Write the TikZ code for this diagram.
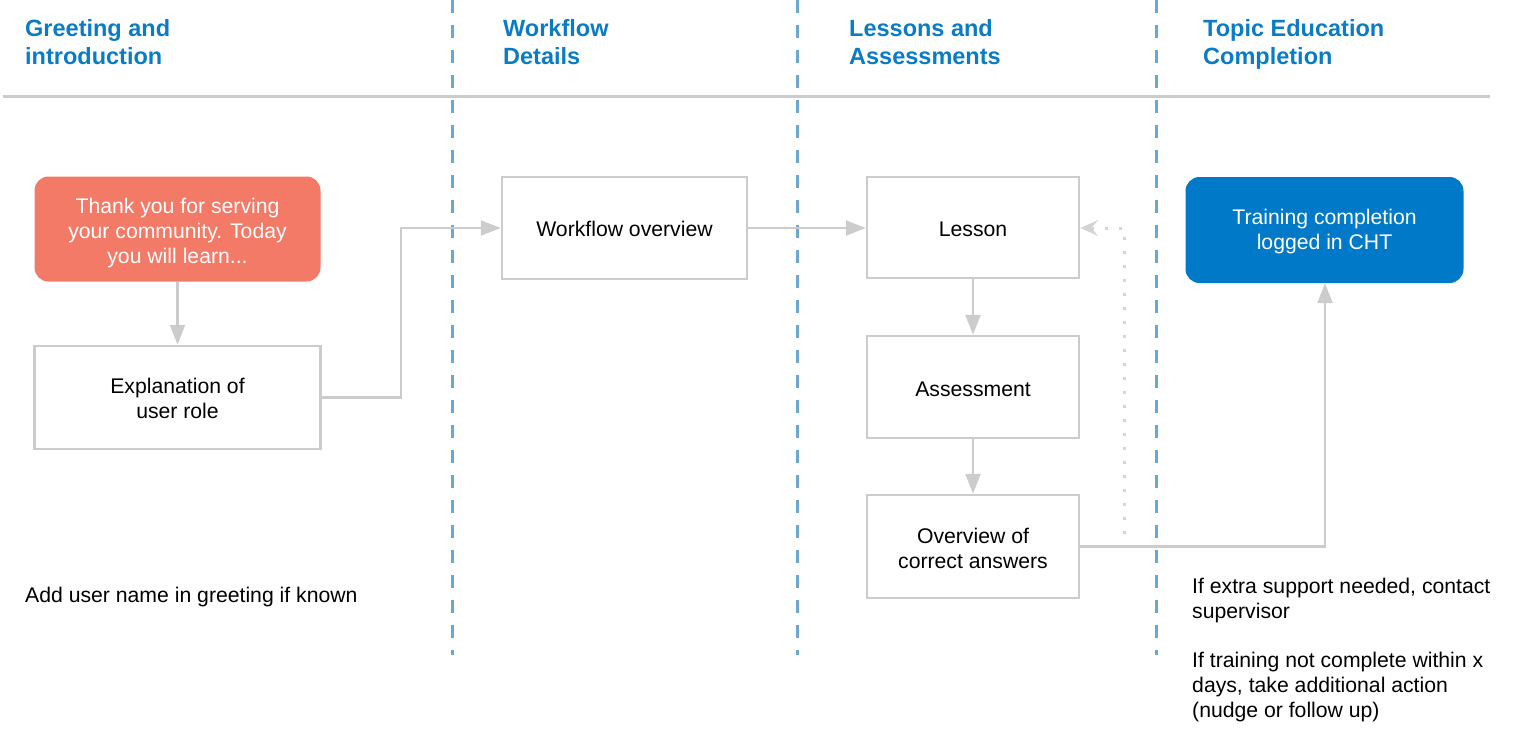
\documentclass[tikz,border=0pt]{standalone}
\usepackage{fontspec}
\setmainfont{Liberation Sans}
\usetikzlibrary{arrows.meta}
\definecolor{lgray}{HTML}{CCCCCC}
\definecolor{dgray}{HTML}{D4D4D4}
\definecolor{hblue}{HTML}{0A7CC6}
\definecolor{dblue}{HTML}{6AA8CF}
\definecolor{salmon}{HTML}{F27A66}
\definecolor{tblue}{HTML}{0079C9}
\tikzset{
  head/.style={anchor=west, align=left, text=hblue, font=\fontsize{23.5}{28}\selectfont\bfseries, inner sep=0pt},
  body/.style={font=\fontsize{21.2}{25}\selectfont, align=center},
  wbox/.style={body, draw=lgray, line width=2.5pt, fill=white, inner sep=0pt},
  rbox/.style={body, rounded corners=14pt, inner sep=0pt, text=white},
  note/.style={anchor=north west, align=left, font=\fontsize{21.2}{24.8}\selectfont, inner sep=0pt},
  conn/.style={draw=lgray, line width=2.5pt, -{Triangle[length=20pt,width=15pt]}},
  dotconn/.style={draw=dgray, line width=3pt, dash pattern=on 3pt off 11pt, -{Stealth[length=18pt,width=16pt,inset=7pt]}},
  lane/.style={draw=dblue, line width=3pt, dash pattern=on 13pt off 12pt},
}
\newcommand{\hs}{\strut}
\begin{document}
\begin{tikzpicture}[x=1pt,y=-1pt]
\useasboundingbox (0,0) rectangle (1514,732);
% headings
\node[head] (h1) at (25,45) {\hs Greeting and\\introduction\hs};
\node[head] (h2) at (503,45) {\hs Workflow\\Details\hs};
\node[head] (h3) at (849,45) {\hs Lessons and\\Assessments\hs};
\node[head] (h4) at (1203,45) {\hs Topic Education\\Completion\hs};
% separators
\coordinate (hl) at (3,96);
\coordinate (hr) at (1490,96);
\draw[lgray, line width=3pt] (hl) -- (hr);
\coordinate (l1t) at (452,0); \coordinate (l1b) at (452,655);
\coordinate (l2t) at (797,0); \coordinate (l2b) at (797,655);
\coordinate (l3t) at (1156,0); \coordinate (l3b) at (1156,655);
\draw[lane] (l1t) -- (l1b);
\draw[lane] (l2t) -- (l2b);
\draw[lane] (l3t) -- (l3b);
% boxes
\node[rbox, fill=salmon, minimum width=286pt, minimum height=105pt] (thanks) at (177.5,229) {};
\node[body, text=white, yshift=-4pt] (thankst) at (thanks.center) {Thank you for serving\\your community. Today\\you will learn...};
\node[wbox, minimum width=286pt, minimum height=103pt] (expl) at (177.5,397.5) {};
\node[body, yshift=-1pt] (explt) at (expl.center) {Explanation of\\user role};
\node[wbox, minimum width=245pt, minimum height=102pt] (wf) at (624.5,228) {};
\node[body, yshift=-1pt] (wft) at (wf.center) {Workflow overview};
\node[wbox, minimum width=212pt, minimum height=101pt] (lesson) at (973,227.5) {};
\node[body, yshift=-2pt] (lessont) at (lesson.center) {Lesson};
\node[wbox, minimum width=212pt, minimum height=102pt] (assess) at (973,387) {};
\node[body, yshift=-2pt] (assesst) at (assess.center) {Assessment};
\node[wbox, minimum width=212pt, minimum height=103pt] (over) at (973,546.5) {};
\node[body, yshift=-2pt] (overt) at (over.center) {Overview of\\correct answers};
\node[rbox, fill=tblue, minimum width=278pt, minimum height=106pt] (train) at (1324.5,230) {};
\node[body, text=white, yshift=-2pt] (traint) at (train.center) {Training completion\\logged in CHT};
% notes
\node[note] (n1) at (25,587) {Add user name in greeting if known};
\node[note] (n2) at (1192,578) {If extra support needed, contact\\supervisor};
\node[note] (n3) at (1192,652) {If training not complete within x\\days, take additional action\\(nudge or follow up)};
% connectors
\draw[conn] (thanks.south) -- (expl.north);
\coordinate (e1) at (401,397.5);
\coordinate (e2) at (401,228);
\draw[conn] (expl.east) -- (e1) -- (e2) -- (wf.west);
\draw[conn] (wf.east) -- (lesson.west |- wf.east);
\draw[conn] (lesson.south) -- (assess.north);
\draw[conn] (assess.south) -- (over.north);
\coordinate (t1) at (1325,546.5);
\draw[conn] (over.east) -- (t1) -- (train.south -| t1);
\coordinate (d1) at (1124,534);
\coordinate (d2) at (1124,228);
\draw[dotconn] (d1) -- (d2) -- (lesson.east |- d2);
\end{tikzpicture}
\end{document}
